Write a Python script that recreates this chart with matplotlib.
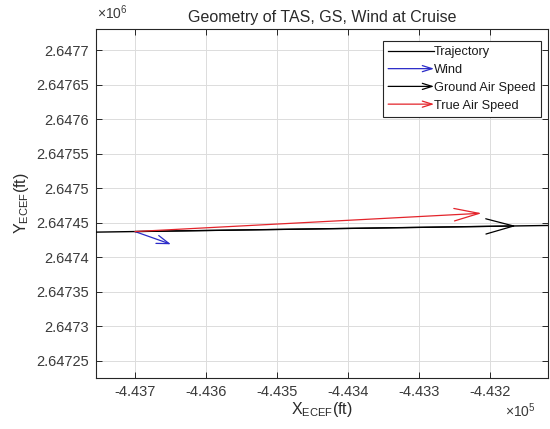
import matplotlib
matplotlib.use("Agg")
import matplotlib.pyplot as plt
from matplotlib.patches import FancyArrowPatch
from matplotlib.lines import Line2D
from matplotlib.legend_handler import HandlerBase

plt.rcParams['font.family'] = ['Liberation Sans', 'DejaVu Sans']

# ---- data (ft) ----
traj_x = [-443800.0, -443000.0]
traj_y = [2647435.8, 2647447.9]

origin_x = -443700.0
origin_y = 2647437.3

wind_dx, wind_dy = 50.7, -18.4
gs_dx, gs_dy = 536.6, 8.1
tas_dx, tas_dy = 488.3, 26.5

xticks = [-443700, -443600, -443500, -443400, -443300, -443200]
xtick_labels = ["-4.437", "-4.436", "-4.435", "-4.434", "-4.433", "-4.432"]
yticks = [2647250, 2647300, 2647350, 2647400, 2647450, 2647500,
          2647550, 2647600, 2647650, 2647700]
ytick_labels = ["2.64725", "2.6473", "2.64735", "2.6474", "2.64745", "2.6475",
                "2.64755", "2.6476", "2.64765", "2.6477"]
xlim = (-443754.9, -443118.3)
ylim = (2647225.4, 2647730.4)

labels = ["Trajectory", "Wind", "Ground Air Speed", "True Air Speed"]

# ---- styling ----
C_AX = '#262626'
C_BLUE = '#2b2bc8'
C_RED = '#e3242b'
C_BLACK = '#000000'

fig = plt.figure(figsize=(5.5, 4.29), dpi=100)
ax = fig.add_axes([96/550, 51/429, 452/550, 349/429])

ax.plot(traj_x, traj_y, color=C_BLACK, lw=1.0, zorder=3)


def arrow(dx, dy, color, hl, hw):
    p = FancyArrowPatch((origin_x, origin_y), (origin_x + dx, origin_y + dy),
                        arrowstyle=f"->,head_length={hl},head_width={hw}",
                        mutation_scale=1, color=color, lw=0.9,
                        shrinkA=0, shrinkB=0, zorder=4)
    ax.add_patch(p)
    return p


arrow(wind_dx, wind_dy, C_BLUE, 9, 3.0)
arrow(gs_dx, gs_dy, C_BLACK, 20, 5.5)
arrow(tas_dx, tas_dy, C_RED, 18, 4.5)

ax.set_xlim(*xlim)
ax.set_ylim(*ylim)
ax.set_xticks(xticks)
ax.set_xticklabels(xtick_labels)
ax.set_yticks(yticks)
ax.set_yticklabels(ytick_labels)

ax.grid(True, color='#dcdcdc', lw=0.7)
ax.set_axisbelow(True)
ax.tick_params(direction='in', top=True, right=True, length=4, width=0.7,
               colors=C_AX, labelsize=10.5, labelcolor='#3a3a3a', pad=5)
for s in ax.spines.values():
    s.set_color(C_AX)
    s.set_linewidth(0.8)

ax.set_title("Geometry of TAS, GS, Wind at Cruise", fontsize=11.5,
             color='#2a2a2a', pad=5)
ax.set_xlabel("X$_{\\mathregular{ECEF}}$(ft)", fontsize=11.5, color='#2a2a2a',
              labelpad=1)
ax.set_ylabel("Y$_{\\mathregular{ECEF}}$(ft)", fontsize=11.5, color='#2a2a2a',
              labelpad=4)

fig.text(520/550, 1 - 411/429, "×10$^{\\mathregular{5}}$", fontsize=10,
         color='#3a3a3a', ha='center', va='center')
fig.text(112/550, 1 - 13/429, "×10$^{\\mathregular{6}}$", fontsize=10,
         color='#3a3a3a', ha='center', va='center')


class HandlerArrow(HandlerBase):
    def create_artists(self, legend, orig_handle, xdescent, ydescent,
                       width, height, fontsize, trans):
        y = height / 2 - ydescent
        p = FancyArrowPatch((-xdescent, y), (width - xdescent, y),
                            arrowstyle="->,head_length=7,head_width=2.2",
                            mutation_scale=1, color=orig_handle.get_edgecolor(),
                            lw=0.9, shrinkA=0, shrinkB=0, transform=trans)
        return [p]


h_traj = Line2D([], [], color=C_BLACK, lw=0.9)
h_wind = FancyArrowPatch((0, 0), (1, 0), color=C_BLUE)
h_gs = FancyArrowPatch((0, 0), (1, 0), color=C_BLACK)
h_tas = FancyArrowPatch((0, 0), (1, 0), color=C_RED)

leg = ax.legend([h_traj, h_wind, h_gs, h_tas], labels,
                handler_map={FancyArrowPatch: HandlerArrow()},
                loc='upper right', bbox_to_anchor=(541/550, 1 - 41/429),
                bbox_transform=fig.transFigure,
                fontsize=9.2, handlelength=3.6, handletextpad=0.0,
                labelspacing=0.45, borderpad=0.42, borderaxespad=0,
                fancybox=False, framealpha=1, edgecolor='#262626')
leg.get_frame().set_linewidth(0.8)
for t in leg.get_texts():
    t.set_color('#1a1a1a')

fig.savefig("out.png", dpi=100)
